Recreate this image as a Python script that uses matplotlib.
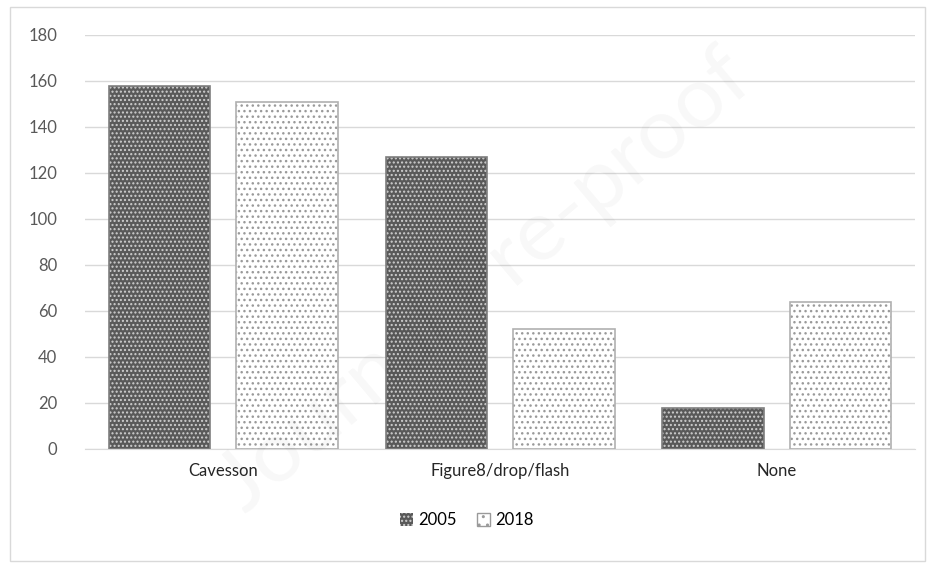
import numpy as np
import matplotlib.pyplot as plt
from matplotlib.patches import Rectangle

# data
categories = ["Cavesson", "Figure8/drop/flash", "None"]
years = ["2005", "2018"]
values_2005 = [158, 127, 18]
values_2018 = [151, 52, 64]
yticks = [0, 20, 40, 60, 80, 100, 120, 140, 160, 180]

plt.rcParams['font.family'] = ['Lato', 'DejaVu Sans']

fig = plt.figure(figsize=(9.33, 5.64), dpi=100)
ax = fig.add_axes([0.091, 0.204, 0.89, 0.734])
ax.set_facecolor('none')

x = np.arange(len(categories))
width = 0.367
off = 0.23

# 2005: dark fill with light dash pattern
ax.bar(x - off, values_2005, width, color='#595959', edgecolor='#cfcfcf', hatch='....', linewidth=0, zorder=2)
ax.bar(x - off, values_2005, width, color='none', edgecolor='#7f7f7f', linewidth=1.2, zorder=4)

# 2018: white fill with grey dots
ax.bar(x + off, values_2018, width, color='white', edgecolor='#9a9a9a', hatch='...', linewidth=0, zorder=2)
ax.bar(x + off, values_2018, width, color='none', edgecolor='#b0b0b0', linewidth=1.2, zorder=4)

ax.set_xlim(-0.5, len(categories) - 0.5)
ax.set_ylim(0, 180)
ax.set_yticks(yticks)
ax.yaxis.grid(True, color='#d9d9d9', linewidth=1)
ax.set_axisbelow(True)
for s in ['top', 'right', 'left']:
    ax.spines[s].set_visible(False)
ax.spines['bottom'].set_color('#d9d9d9')
ax.tick_params(length=0, labelsize=12, labelcolor='#595959')
ax.tick_params(axis='y', pad=20)
ax.tick_params(axis='x', pad=10, labelcolor='#262626')
ax.set_xticks(x)
ax.set_xticklabels(categories)

# legend
h1 = Rectangle((0, 0), 1, 1, facecolor='#595959', edgecolor='#cfcfcf', hatch='....', linewidth=0)
h2 = Rectangle((0, 0), 1, 1, facecolor='white', edgecolor='#9a9a9a', hatch='..', linewidth=1)
fig.legend([h1, h2], years, loc='center', bbox_to_anchor=(0.5, 0.078), ncol=2,
           frameon=False, fontsize=12, handlelength=0.8, handleheight=0.8,
           handletextpad=0.3, columnspacing=1.2)

# figure border
fig.patches.append(Rectangle((0.011, 0.006), 0.98, 0.982, transform=fig.transFigure,
                             fill=False, edgecolor='#d9d9d9', linewidth=1))

# faint watermark
fig.text(0.52, 0.5, "Journal Pre-proof", fontsize=62, rotation=40, color='#000000',
         alpha=0.03, ha='center', va='center', zorder=10)

fig.savefig('out.png', dpi=100)
